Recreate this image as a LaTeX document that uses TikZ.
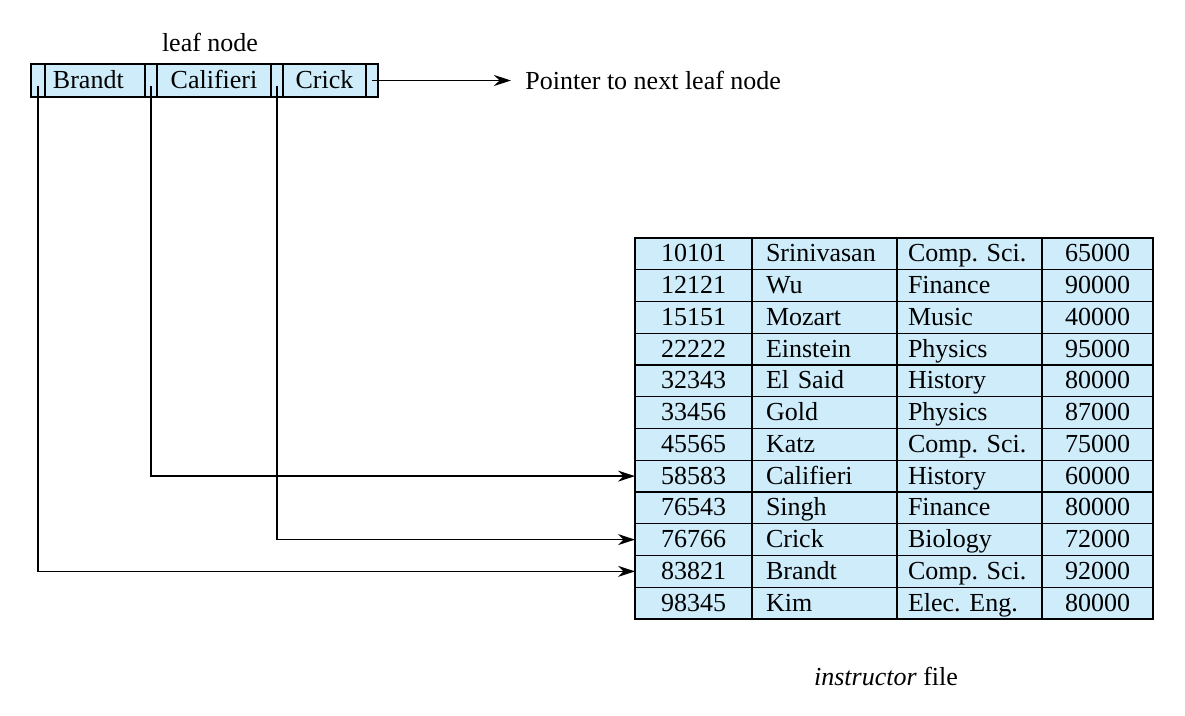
\documentclass[tikz,border=0pt]{standalone}
\usepackage{fontspec}
\setmainfont{Liberation Serif}
\usepackage{xcolor}
\usepackage{tikz}
\usetikzlibrary{positioning, arrows.meta}
\definecolor{cellblue}{RGB}{206,236,250}
\frenchspacing

\begin{document}
\begin{tikzpicture}[
    x=0.5pt, y=-0.5pt,
    font=\fontsize{13}{15}\selectfont,
    cell/.style={draw, fill=cellblue, line width=0.7pt, inner sep=0pt, outer sep=0pt, minimum height=15.875pt, text height=10pt, text depth=2pt},
    idcol/.style={cell, minimum width=58.5pt},
    nmcol/.style={cell, inner xsep=7pt, text width=58.5pt, align=left},
    dpcol/.style={cell, inner xsep=5.5pt, text width=61.5pt, align=left},
    slcol/.style={cell, minimum width=55.5pt},
    leaf/.style={cell, minimum height=16.5pt},
    lptr/.style={leaf, minimum width=6pt},
    arr/.style={-{Stealth[length=8.5pt, width=5.5pt]}, line width=0.7pt}
]
\useasboundingbox (0,0) rectangle (1185,716);

% Leaf node
\node[lptr, minimum width=7pt, anchor=north west] (pa) at (31,64) {};
\node[leaf, inner xsep=4pt, text width=42pt, align=left, right=0pt of pa] (brandt) {Brandt};
\node[lptr, right=0pt of brandt] (pb) {};
\node[leaf, minimum width=57pt, right=0pt of pb] (califieri) {Califieri};
\node[lptr, right=0pt of califieri] (pc) {};
\node[leaf, minimum width=41.5pt, right=0pt of pc] (crick) {Crick};
\node[lptr, right=0pt of crick] (pn) {};

\node[above=2.75pt of califieri, xshift=-2pt] (leaflbl) {leaf node};
\node[right=66.5pt of pn, inner xsep=7pt] (next) {Pointer to next leaf node};

% instructor file
\foreach \rid/\rname/\rdept/\rsal [count=\r] in {
    10101/Srinivasan/Comp. Sci./65000,
    12121/Wu/Finance/90000,
    15151/Mozart/Music/40000,
    22222/Einstein/Physics/95000,
    32343/El Said/History/80000,
    33456/Gold/Physics/87000,
    45565/Katz/Comp. Sci./75000,
    58583/Califieri/History/60000,
    76543/Singh/Finance/80000,
    76766/Crick/Biology/72000,
    83821/Brandt/Comp. Sci./92000,
    98345/Kim/Elec. Eng./80000} {
    \node[idcol, anchor=north west] (id\r) at (635, 238+31.75*\r-31.75) {\rid};
    \node[nmcol, right=0pt of id\r] (nm\r) {\rname};
    \node[dpcol, right=0pt of nm\r] (dp\r) {\rdept};
    \node[slcol, right=0pt of dp\r] (sl\r) {\rsal};
}

\node (caption) at (886,677) {\textit{instructor} file};

% Pointers
\draw[arr] (pn.center) -- (next.west);
\draw[arr] ([yshift=-2.75pt]pa.center) |- (id11.west);
\draw[arr] ([yshift=-2.75pt]pb.center) |- (id8.west);
\draw[arr] ([yshift=-2.75pt]pc.center) |- (id10.west);

\end{tikzpicture}
\end{document}
